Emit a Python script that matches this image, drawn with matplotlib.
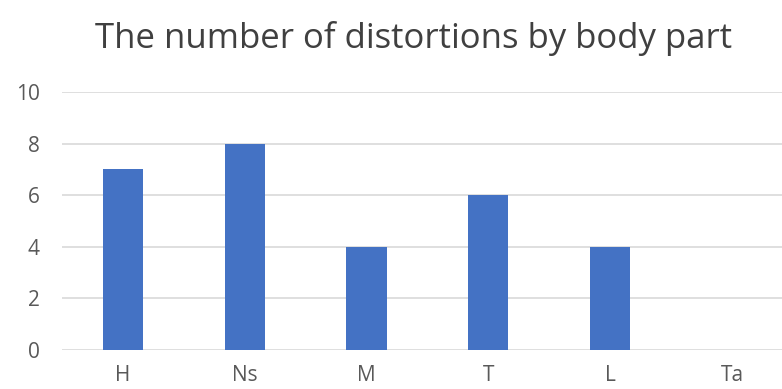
import matplotlib
matplotlib.use("Agg")
import matplotlib.pyplot as plt

categories = ["H", "Ns", "M", "T", "L", "Ta"]
counts = [7, 8, 4, 6, 4, 0]
y_ticks = [0, 2, 4, 6, 8, 10]

plt.rcParams["font.family"] = ["Open Sans", "DejaVu Sans"]

fig = plt.figure(figsize=(7.82, 3.89), dpi=100)
ax = fig.add_axes([62 / 782, 39 / 389, 1 - 62 / 782, 258 / 389])

x = range(len(categories))
ax.bar(x, counts, width=0.33, color="#4472C4", zorder=3)

ax.set_xlim(-0.5, 5.41)
ax.set_ylim(0, 10)
ax.set_yticks(y_ticks)
ax.set_xticks(list(x))
ax.set_xticklabels(categories)

ax.yaxis.grid(True, color="#d9d9d9", linewidth=1.2, zorder=0)
for s in ax.spines.values():
    s.set_visible(False)
ax.tick_params(axis="both", length=0, labelsize=15, labelcolor="#595959")
ax.tick_params(axis="y", pad=16)
ax.tick_params(axis="x", pad=11)

fig.text(0.529, 0.902, "The number of distortions by body part",
         ha="center", va="center", fontsize=25, color="#404040")

fig.savefig("out.png", dpi=100, facecolor="white")
